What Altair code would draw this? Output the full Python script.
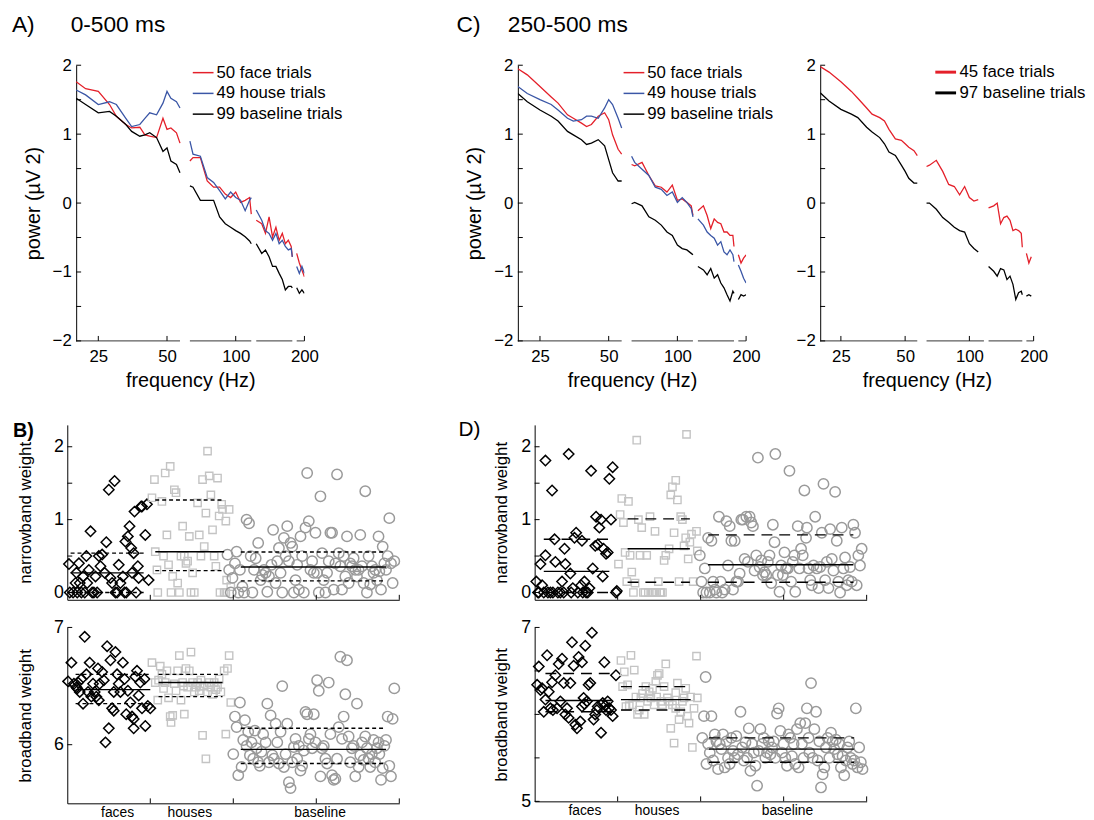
import altair as alt
import pandas as pd

FONT = "Liberation Sans"
RED = "#e4202a"
BLUE = "#3a56a6"
BLACK = "#000000"
HOUSE_GRAY = "#c4c4c4"
BASE_GRAY = "#9a9a9a"

# ---------------- spectra ----------------
FREQ = [20, 22, 25, 28, 30, 33, 35, 38, 40, 42, 45, 48, 50, 52, 55, 57,
        63, 65, 70, 75, 80, 85, 90, 95, 100, 105, 110, 115, 117,
        123, 130, 135, 140, 145, 150, 155, 160, 165, 170, 175, 177,
        185, 190, 195, 200]
SEGMENTS = [(20, 57), (63, 117), (123, 177), (185, 200)]
X_TICKS = [25, 50, 100, 200]
Y_LABELS = [-2, -1, 0, 1, 2]
Y_MINOR = [-2, -1.5, -1, -0.5, 0, 0.5, 1, 1.5, 2]

A_LABELS = ["50 face trials", "49 house trials", "99 baseline trials"]
A_FACE = [1.76, 1.66, 1.62, 1.43, 1.26, 1.14, 1.09, 1.10, 0.99, 0.97, 0.95, 1.23, 1.07, 1.09, 1.02, 0.87,
          0.61, 0.66, 0.66, 0.32, 0.23, 0.23, 0.13, 0.08, 0.16, 0.01, 0.04, 0.08, -0.16,
          -0.25, -0.30, -0.44, -0.20, -0.49, -0.35, -0.54, -0.44, -0.59, -0.54, -0.63, -0.78,
          -0.73, -0.87, -0.97, -1.07]
A_HOUSE = [1.64, 1.57, 1.43, 1.47, 1.43, 1.23, 1.11, 1.14, 1.23, 1.31, 1.28, 1.45, 1.62, 1.52, 1.47, 1.38,
           0.90, 0.71, 0.68, 0.37, 0.30, 0.18, 0.06, 0.16, 0.08, 0.04, -0.11, 0.04, 0.08,
           -0.10, -0.25, -0.40, -0.44, -0.54, -0.44, -0.59, -0.54, -0.63, -0.68, -0.66, -0.78,
           -0.92, -1.02, -0.92, -1.02]
A_BASE = [1.52, 1.43, 1.31, 1.33, 1.26, 1.14, 1.04, 0.97, 0.99, 1.02, 0.95, 0.75, 0.80, 0.61, 0.56, 0.44,
          0.25, 0.23, 0.04, 0.04, 0.04, -0.20, -0.30, -0.35, -0.40, -0.44, -0.49, -0.55, -0.59,
          -0.59, -0.73, -0.68, -0.78, -0.92, -0.92, -1.02, -1.11, -1.26, -1.21, -1.21, -1.23,
          -1.23, -1.31, -1.26, -1.31]

C_LABELS = ["50 face trials", "49 house trials", "99 baseline trials"]
C_FACE = [1.95, 1.86, 1.69, 1.54, 1.45, 1.28, 1.23, 1.16, 1.11, 1.14, 1.26, 1.31, 1.21, 0.99, 0.78, 0.71,
          0.56, 0.54, 0.59, 0.40, 0.25, 0.23, 0.16, 0.26, 0.04, 0.06, 0.01, -0.04, -0.18,
          -0.11, -0.04, -0.18, -0.37, -0.23, -0.28, -0.30, -0.42, -0.42, -0.47, -0.47, -0.63,
          -0.75, -0.87, -0.80, -0.75]
C_HOUSE = [1.69, 1.59, 1.50, 1.43, 1.35, 1.23, 1.19, 1.21, 1.26, 1.26, 1.23, 1.38, 1.50, 1.43, 1.23, 1.09,
           0.68, 0.59, 0.49, 0.40, 0.23, 0.20, 0.11, 0.16, 0.01, 0.08, 0.01, -0.08, -0.20,
           -0.23, -0.32, -0.42, -0.47, -0.51, -0.61, -0.56, -0.71, -0.75, -0.68, -0.75, -0.85,
           -0.90, -0.99, -1.09, -1.16]
C_BASE = [1.59, 1.47, 1.35, 1.26, 1.19, 1.04, 0.99, 0.92, 0.85, 0.87, 0.92, 0.83, 0.63, 0.44, 0.32, 0.32,
          -0.01, 0.01, -0.04, -0.20, -0.25, -0.32, -0.42, -0.47, -0.61, -0.66, -0.68, -0.73, -0.75,
          -0.92, -0.97, -1.04, -0.95, -1.09, -1.04, -1.16, -1.23, -1.33, -1.42, -1.28, -1.31,
          -1.40, -1.33, -1.35, -1.33]

R_LABELS = ["45 face trials", "97 baseline trials"]
R_FACE = [1.98, 1.90, 1.76, 1.62, 1.52, 1.38, 1.29, 1.24, 1.19, 1.07, 0.93, 0.91, 0.86, 0.81, 0.76, 0.69,
          0.53, 0.55, 0.62, 0.46, 0.27, 0.24, 0.12, 0.24, 0.08, 0.03, 0.05, None, None,
          -0.07, -0.04, 0.00, -0.30, -0.21, -0.19, -0.25, -0.40, -0.38, -0.40, -0.44, -0.64,
          -0.73, -0.87, -0.78, None]
R_BASE = [1.60, 1.48, 1.36, 1.29, 1.24, 1.10, 1.03, 0.95, 0.86, 0.74, 0.69, 0.55, 0.46, 0.36, 0.29, 0.29,
          0.00, 0.00, -0.09, -0.21, -0.28, -0.35, -0.40, -0.42, -0.59, -0.66, -0.71, None, None,
          -0.92, -0.99, -1.06, -0.95, -0.97, -1.11, -1.06, -1.18, -1.40, -1.30, -1.28, -1.33,
          -1.35, -1.33, -1.35, None]

# ---------------- trial weights ----------------
CATEGORIES = ["faces", "houses", "baseline"]
CAT_POS = [0.6, 1.47, 3.04]
GROUP_TICKS = [1, 2, 3, 4]

# B) narrowband
BN_FACE_X = [0.02, 0.03, 0.07, 0.10, 0.11, 0.12, 0.14, 0.15, 0.17, 0.19, 0.21, 0.23, 0.24, 0.26, 0.28, 0.30,
             0.32, 0.34, 0.36, 0.38, 0.40, 0.42, 0.45, 0.47, 0.50, 0.52, 0.54, 0.57, 0.58, 0.60, 0.62, 0.64,
             0.67, 0.69, 0.71, 0.70, 0.73, 0.75, 0.77, 0.78, 0.80, 0.81, 0.83, 0.85, 0.86, 0.89, 0.90, 0.94,
             0.96, 0.98]
BN_FACE_Y = [0.39, 0, 0, 0.13, 0.27, 0, 0.40, 0.13, 0, 0.22, 0, 0.50, 0.13, 0.31, 0.84, 0,
             0, 0.22, 0, 0.50, 0.36, 0.52, 0.27, 0.69, 1.41, 0.20, 0.13, 1.53, 0, 0, 0.38, 0.13,
             0.22, 0, 0, 0.70, 0.77, 0.91, 0.61, 0.27, 0.54, 1.11, 0, 0.36, 0.20, 1.18, 1.18, 0.79,
             1.21, 0.17]
BN_HOUSE_X = [1.02, 1.05, 1.06, 1.08, 1.09, 1.14, 1.16, 1.18, 1.20, 1.22, 1.24, 1.25, 1.27, 1.29, 1.31, 1.33,
              1.35, 1.37, 1.39, 1.41, 1.43, 1.45, 1.47, 1.49, 1.51, 1.53, 1.57, 1.59, 1.61, 1.63, 1.65, 1.67,
              1.69, 1.71, 1.73, 1.75, 1.77, 1.79, 1.81, 1.83, 1.84, 1.86, 1.87, 1.89, 1.91, 1.92, 1.95, 1.91,
              1.97]
BN_HOUSE_Y = [1.30, 1.55, 0.56, 0.31, 0, 1.25, 0.50, 1.64, 0.79, 0.38, 1.73, 0, 0.22, 1.41, 1.37, 0.13,
              0, 0.50, 0.91, 0.50, 0.40, 0.43, 0.77, 0, 0.27, 0, 1.23, 0.79, 0.50, 1.55, 0.63, 1.09,
              1.94, 1.60, 1.34, 0.86, 0.50, 0.36, 1.57, 1.05, 0, 1.21, 1.14, 0, 0.98, 0.17, 1.14, 0,
              0.08]
BN_BASE_X = [1.93, 1.95, 1.97, 1.99, 2.02, 2.04, 2.06, 2.08, 2.11, 2.13, 2.16, 2.19, 2.21, 2.23, 2.25, 2.27,
             2.30, 2.33, 2.35, 2.37, 2.39, 2.41, 2.43, 2.46, 2.48, 2.51, 2.53, 2.55, 2.57, 2.59, 2.61, 2.63,
             2.65, 2.67, 2.69, 2.71, 2.73, 2.75, 2.77, 2.79, 2.81, 2.83, 2.85, 2.87, 2.89, 2.91, 2.93, 2.95,
             2.97, 2.99, 3.01, 3.03, 3.05, 3.07, 3.09, 3.11, 3.13, 3.15, 3.17, 3.19, 3.21, 3.23, 3.25, 3.27,
             3.29, 3.31, 3.33, 3.35, 3.37, 3.39, 3.41, 3.43, 3.45, 3.47, 3.49, 3.51, 3.53, 3.55, 3.57, 3.59,
             3.61, 3.63, 3.65, 3.67, 3.69, 3.71, 3.73, 3.75, 3.76, 3.78, 3.80, 3.82, 3.84, 3.86, 3.88, 3.90,
             3.92, 3.94]
BN_BASE_Y = [0.52, 0.31, 0, 0.20, 0.40, 0.56, 0, 0.31, 0.08, 0, 1.00, 0.95, 0.50, 0, 0.31, 0.47,
             0.68, 0.17, 0.24, 0.31, 0.27, 0.01, 0.22, 0.38, 0.86, 0.13, 0.43, 0.61, 0.27, 0, 0.75, 0.50,
             0.91, 0.43, 0.68, 0.63, 0, 0.17, 0.38, 0.04, 0.77, 0.50, 0, 0.89, 1.64, 0.98, 0.31, 0.43,
             0.27, 0.82, 0.27, 0, 1.32, 0.54, 0.17, 0, 0.27, 0.43, 0.82, 0.82, 0.04, 0.40, 1.62, 0.54,
             0.36, 0.04, 0.50, 0.22, 0.77, 0.13, 0.40, 0.36, 0.47, 0.31, 0.22, 0.31, 0.79, 0.36, 0.13, 1.39,
             0, 0.50, 0.11, 0.36, 0.27, 0.31, 0.17, 0.77, 0.29, 0.04, 0.63, 0.40, 0.31, 0.50, 1.02, 0.40,
             0.13, 0.43]
BN_STATS = {"x0": [0.04, 1.06, 2.09], "x1": [0.92, 1.89, 3.84],
            "q1": [0.0, 0.30, 0.16], "med": [0.27, 0.56, 0.35], "q3": [0.54, 1.27, 0.555]}

# B) broadband
BB_FACE_X = [0.01, 0.05, 0.08, 0.11, 0.12, 0.13, 0.15, 0.17, 0.19, 0.21, 0.23, 0.25, 0.27, 0.29, 0.31, 0.33,
             0.35, 0.37, 0.38, 0.39, 0.42, 0.44, 0.46, 0.48, 0.50, 0.52, 0.54, 0.56, 0.56, 0.58, 0.60, 0.62,
             0.64, 0.67, 0.69, 0.71, 0.73, 0.76, 0.78, 0.80, 0.80, 0.82, 0.84, 0.86, 0.88, 0.90, 0.93, 0.94,
             0.97, 1.00]
BB_FACE_Y = [6.54, 6.70, 6.52, 6.49, 6.48, 6.53, 6.45, 6.56, 6.35, 6.92, 6.60, 6.45, 6.70, 6.41, 6.52, 6.45,
             6.41, 6.65, 6.38, 6.52, 6.62, 6.55, 6.02, 6.84, 6.14, 6.72, 6.31, 6.45, 6.29, 6.79, 6.60, 6.52,
             6.45, 6.70, 6.56, 6.26, 6.46, 6.36, 6.24, 6.14, 6.22, 6.58, 6.63, 6.42, 6.53, 6.31, 6.56, 6.16,
             6.33, 6.31]
BB_HOUSE_X = [1.02, 1.06, 1.09, 1.10, 1.12, 1.14, 1.16, 1.18, 1.20, 1.22, 1.24, 1.25, 1.27, 1.29, 1.31, 1.33,
              1.35, 1.37, 1.39, 1.40, 1.41, 1.43, 1.45, 1.47, 1.49, 1.51, 1.53, 1.55, 1.57, 1.59, 1.60, 1.61,
              1.63, 1.65, 1.67, 1.69, 1.71, 1.73, 1.75, 1.77, 1.79, 1.81, 1.83, 1.85, 1.89, 1.91, 1.93, 1.95,
              1.97]
BB_HOUSE_Y = [6.70, 6.53, 6.38, 6.55, 6.67, 6.60, 6.48, 6.53, 6.63, 6.40, 6.24, 6.19, 6.25, 6.52, 6.46, 6.63,
              6.76, 6.38, 6.53, 6.50, 6.26, 6.65, 6.49, 6.63, 6.79, 6.53, 6.45, 6.49, 6.53, 6.46, 6.50, 6.55,
              6.08, 6.50, 5.88, 6.45, 6.53, 6.49, 6.43, 6.53, 6.47, 6.49, 6.56, 6.45, 6.63, 6.09, 6.65, 6.76,
              6.36]
BB_BASE_X = [2.00, 2.02, 2.04, 2.06, 2.08, 2.10, 2.12, 2.14, 2.16, 2.18, 2.20, 2.22, 2.24, 2.26, 2.28, 2.30,
             2.32, 2.34, 2.36, 2.39, 2.41, 2.43, 2.45, 2.47, 2.49, 2.51, 2.53, 2.55, 2.57, 2.59, 2.61, 2.63,
             2.65, 2.67, 2.69, 2.71, 2.73, 2.75, 2.77, 2.79, 2.81, 2.83, 2.85, 2.87, 2.89, 2.91, 2.93, 2.95,
             2.97, 2.99, 3.01, 3.03, 3.05, 3.07, 3.09, 3.11, 3.13, 3.15, 3.17, 3.19, 3.21, 3.23, 3.25, 3.27,
             3.29, 3.31, 3.33, 3.35, 3.37, 3.39, 3.41, 3.43, 3.45, 3.47, 3.49, 3.51, 3.53, 3.55, 3.57, 3.59,
             3.61, 3.63, 3.65, 3.67, 3.69, 3.71, 3.73, 3.75, 3.76, 3.78, 3.80, 3.82, 3.84, 3.86, 3.88, 3.90,
             3.92, 3.94]
BB_BASE_Y = [5.92, 6.24, 6.15, 5.74, 6.36, 5.81, 6.04, 6.21, 5.99, 6.11, 5.91, 6.02, 5.88, 6.12, 5.97, 5.85,
             5.82, 5.94, 6.09, 6.02, 6.35, 5.85, 6.25, 5.91, 5.88, 6.18, 6.02, 5.84, 6.11, 6.50, 5.81, 5.92,
             6.18, 5.68, 5.63, 5.85, 5.98, 6.05, 5.88, 5.99, 5.78, 5.82, 5.95, 6.28, 6.26, 6.05, 6.09, 5.97,
             6.26, 6.02, 6.55, 6.46, 5.73, 5.97, 5.99, 5.88, 5.84, 6.53, 6.09, 5.74, 5.70, 5.71, 5.88, 6.15,
             6.75, 6.05, 6.24, 6.43, 6.72, 6.07, 5.85, 5.97, 5.99, 5.73, 6.35, 5.81, 5.91, 6.02, 5.87, 6.07,
             5.97, 5.88, 5.81, 5.92, 6.04, 5.85, 5.97, 6.02, 5.92, 5.70, 5.80, 5.99, 6.04, 6.24, 5.82, 5.73,
             6.22, 6.48]
BB_STATS = {"x0": [0.10, 1.10, 2.09], "x1": [1.00, 1.87, 3.84],
            "q1": [6.35, 6.41, 5.84], "med": [6.47, 6.53, 5.96], "q3": [6.60, 6.60, 6.14]}

# D) narrowband
DN_FACE_X = [0.02, 0.04, 0.05, 0.07, 0.09, 0.11, 0.13, 0.13, 0.16, 0.19, 0.21, 0.22, 0.24, 0.25, 0.28, 0.31,
             0.33, 0.35, 0.36, 0.37, 0.41, 0.43, 0.44, 0.46, 0.48, 0.50, 0.52, 0.56, 0.57, 0.58, 0.60, 0.62,
             0.64, 0.66, 0.68, 0.70, 0.73, 0.74, 0.76, 0.78, 0.80, 0.82, 0.83, 0.86, 0.88, 0.90, 0.92, 0.94,
             0.98, 0.99]
DN_FACE_Y = [0.15, 0, 0, 0.39, 0.10, 0, 1.81, 0.51, 0, 0, 1.40, 0, 0.73, 0.42, 0, 0,
             0.15, 0, 0.60, 0.39, 1.90, 0.26, 0, 0.06, 0.75, 0.82, 0, 0.10, 0.71, 0, 0.15, 0,
             0, 0.06, 1.67, 0.33, 0.64, 1.04, 0.66, 0.89, 1.00, 0.22, 0.60, 0.53, 0.55, 1.56, 1.00, 1.72,
             0, 0.02]
DN_HOUSE_X = [1.01, 1.03, 1.05, 1.07, 1.09, 1.11, 1.13, 1.15, 1.17, 1.19, 1.21, 1.23, 1.25, 1.27, 1.29, 1.31,
              1.33, 1.35, 1.37, 1.39, 1.41, 1.43, 1.45, 1.45, 1.47, 1.49, 1.51, 1.52, 1.54, 1.56, 1.58, 1.62,
              1.64, 1.66, 1.68, 1.70, 1.72, 1.74, 1.76, 1.78, 1.80, 1.82, 1.83, 1.85, 1.87, 1.89, 1.91, 1.95,
              1.96]
DN_HOUSE_Y = [0.39, 1.07, 1.29, 0.96, 0.55, 0.15, 1.25, 0.51, 0.28, 0, 0.13, 2.09, 1.00, 0.51, 0.89, 0,
              0, 0.51, 0, 1.04, 0, 0, 0.84, 0, 0, 0.15, 0, 0, 0, 0.44, 0.51, 0.60,
              1.34, 1.45, 0.82, 1.54, 1.27, 0.15, 1.04, 1.00, 0.64, 0.75, 2.17, 0.46, 0.69, 0.80, 0.15, 0.84,
              0.57]
DN_BASE_X = [1.99, 2.01, 2.03, 2.05, 2.07, 2.09, 2.11, 2.13, 2.15, 2.17, 2.19, 2.22, 2.24, 2.26, 2.29, 2.31,
             2.33, 2.35, 2.37, 2.39, 2.41, 2.43, 2.45, 2.47, 2.49, 2.51, 2.53, 2.55, 2.57, 2.59, 2.61, 2.63,
             2.65, 2.67, 2.69, 2.71, 2.73, 2.75, 2.77, 2.79, 2.81, 2.83, 2.85, 2.87, 2.89, 2.90, 2.93, 2.95,
             2.97, 2.99, 3.01, 3.03, 3.05, 3.07, 3.09, 3.11, 3.13, 3.14, 3.17, 3.19, 3.21, 3.23, 3.25, 3.27,
             3.28, 3.30, 3.32, 3.34, 3.36, 3.38, 3.40, 3.42, 3.44, 3.46, 3.48, 3.50, 3.52, 3.54, 3.56, 3.58,
             3.60, 3.62, 3.64, 3.66, 3.68, 3.70, 3.72, 3.74, 3.76, 3.78, 3.80, 3.82, 3.84, 3.86, 3.88, 3.90,
             3.92, 3.94]
DN_BASE_Y = [0.51, 0.15, 0, 0.33, 0, 0.75, 0, 0.71, 0.15, 0.04, 0, 1.04, 0.15, 0, 0.04, 0.98,
             0.37, 0.91, 0.71, 0.04, 0.71, 0.15, 0.15, 0.26, 1.00, 1.00, 0.46, 1.04, 0.42, 1.04, 0.96, 0.91,
             0.30, 0.51, 1.85, 0.35, 0.44, 0.24, 0.28, 0.24, 0.42, 0.51, 0.13, 0.93, 0.69, 1.90, 0.24, 0.01,
             0.37, 0.24, 0.55, 0.33, 0.33, 1.67, 0.15, 0.42, 0.51, 0.01, 0.91, 0.33, 0.60, 0.51, 1.40, 0.75,
             0.89, 0.33, 0.17, 0.10, 0.37, 1.04, 0.33, 0.06, 0.35, 0.82, 1.49, 0.17, 0.42, 0.06, 0.87, 0.46,
             0.30, 1.38, 0.71, 0.15, 0, 0.89, 0.33, 0.48, 0.10, 0.17, 0.35, 0.15, 0.93, 0.82, 0.10, 0.51,
             0.37, 0.60]
DN_STATS = {"x0": [0.11, 1.12, 2.09], "x1": [0.90, 1.87, 3.84],
            "q1": [0.0, 0.14, 0.14], "med": [0.29, 0.60, 0.38], "q3": [0.73, 1.01, 0.79]}

# D) broadband
DB_FACE_X = [0.03, 0.05, 0.07, 0.09, 0.11, 0.13, 0.15, 0.17, 0.19, 0.21, 0.22, 0.25, 0.27, 0.29, 0.31, 0.33,
             0.35, 0.37, 0.39, 0.41, 0.43, 0.45, 0.47, 0.49, 0.51, 0.53, 0.55, 0.57, 0.57, 0.59, 0.60, 0.61,
             0.63, 0.65, 0.67, 0.69, 0.71, 0.73, 0.75, 0.76, 0.80, 0.82, 0.84, 0.85, 0.86, 0.88, 0.90, 0.92,
             0.94, 0.98]
DB_FACE_Y = [6.34, 6.55, 6.28, 6.30, 6.03, 6.17, 6.68, 6.26, 6.07, 6.37, 6.05, 6.45, 6.07, 6.58, 6.15, 6.64,
             6.36, 6.00, 6.07, 5.96, 6.36, 6.83, 6.56, 5.88, 5.84, 6.66, 5.92, 6.09, 6.60, 6.19, 6.12, 6.79,
             6.15, 6.34, 6.36, 6.94, 5.94, 6.00, 6.05, 6.09, 5.79, 6.13, 6.60, 6.10, 6.05, 6.15, 6.07, 6.05,
             5.98, 6.45]
DB_HOUSE_X = [1.04, 1.06, 1.08, 1.10, 1.12, 1.14, 1.16, 1.18, 1.20, 1.22, 1.24, 1.26, 1.28, 1.30, 1.32, 1.34,
              1.36, 1.38, 1.40, 1.42, 1.44, 1.46, 1.47, 1.48, 1.50, 1.52, 1.54, 1.56, 1.58, 1.60, 1.62, 1.64,
              1.66, 1.68, 1.70, 1.70, 1.72, 1.74, 1.76, 1.78, 1.80, 1.82, 1.84, 1.86, 1.88, 1.90, 1.92, 1.95,
              1.96]
DB_HOUSE_Y = [6.62, 6.32, 6.49, 6.09, 6.34, 6.10, 6.68, 6.11, 6.51, 6.20, 6.00, 6.05, 6.19, 6.24, 6.00, 6.32,
              6.15, 6.26, 6.19, 6.30, 6.11, 6.38, 6.20, 6.45, 6.47, 6.15, 6.11, 6.32, 6.58, 6.19, 6.15, 5.84,
              6.11, 5.67, 6.07, 6.25, 6.36, 5.94, 6.03, 6.15, 6.19, 6.30, 5.98, 5.90, 6.20, 5.62, 6.07, 6.67,
              6.19]
DB_BASE_X = [2.02, 2.04, 2.06, 2.07, 2.09, 2.11, 2.13, 2.15, 2.17, 2.19, 2.21, 2.23, 2.25, 2.27, 2.29, 2.31,
             2.33, 2.35, 2.37, 2.39, 2.41, 2.43, 2.45, 2.48, 2.50, 2.52, 2.54, 2.56, 2.58, 2.60, 2.62, 2.64,
             2.66, 2.68, 2.70, 2.72, 2.74, 2.76, 2.78, 2.80, 2.82, 2.84, 2.86, 2.88, 2.90, 2.92, 2.94, 2.96,
             2.98, 3.00, 3.02, 3.04, 3.06, 3.08, 3.10, 3.12, 3.14, 3.16, 3.18, 3.20, 3.22, 3.24, 3.26, 3.28,
             3.30, 3.31, 3.33, 3.35, 3.37, 3.39, 3.41, 3.43, 3.45, 3.47, 3.49, 3.51, 3.53, 3.55, 3.57, 3.59,
             3.61, 3.63, 3.65, 3.67, 3.69, 3.71, 3.73, 3.75, 3.77, 3.79, 3.81, 3.83, 3.85, 3.87, 3.89, 3.91,
             3.93, 3.95]
DB_BASE_Y = [5.73, 5.98, 6.43, 5.43, 5.66, 5.56, 5.98, 5.47, 5.77, 5.69, 5.37, 5.66, 5.60, 5.77, 5.39, 5.69,
             5.50, 5.43, 5.73, 5.58, 5.50, 5.75, 5.54, 6.03, 5.62, 5.47, 5.68, 5.50, 5.84, 5.35, 5.66, 5.56,
             5.41, 5.18, 5.58, 5.83, 5.66, 5.73, 5.50, 5.56, 5.69, 5.54, 5.62, 5.69, 5.50, 6.01, 6.07, 5.81,
             5.56, 5.66, 5.50, 5.41, 5.77, 5.73, 5.52, 5.66, 5.43, 5.83, 5.39, 5.90, 5.66, 5.50, 5.90, 6.07,
             5.73, 5.56, 6.36, 5.50, 5.83, 6.03, 5.47, 5.69, 5.16, 5.31, 5.39, 5.62, 5.73, 5.50, 5.79, 5.69,
             5.60, 5.71, 5.54, 5.66, 5.39, 5.52, 5.30, 5.47, 5.62, 5.69, 5.50, 5.43, 5.47, 6.07, 5.39, 5.62,
             5.45, 5.37]
DB_STATS = {"x0": [0.13, 1.04, 2.10], "x1": [0.92, 1.88, 3.85],
            "q1": [6.03, 6.05, 5.45], "med": [6.16, 6.17, 5.60], "q3": [6.47, 6.32, 5.73]}

MINUS_EXPR = "datum.value < 0 ? '\u2212' + format(-datum.value, 'd') : format(datum.value, 'd')"


def seg_of(f):
    for i, (a, b) in enumerate(SEGMENTS):
        if a <= f <= b:
            return i
    return -1


def spectrum_panel(labels, series, colors, width, height, title=None, y_title=True,
                   legend_x=0, legend_y=0, swatch_width=1.5, inset=0):
    rows = []
    for lab, vals in zip(labels, series):
        for f, v in zip(FREQ, vals):
            if v is None:
                continue
            rows.append({"freq": f, "power": v, "series": lab, "seg": seg_of(f)})
    df = pd.DataFrame(rows)
    full_w = width + inset
    xscale = alt.Scale(type="log", domain=[20, 200], range=[inset, full_w], nice=False)
    yscale = alt.Scale(domain=[-2, 2], nice=False)
    xaxis = alt.Axis(values=X_TICKS, format="d", domain=False, ticks=False, grid=False,
                     labelFontSize=17, labelPadding=8, labelFlush=False,
                     title="frequency (Hz)", titleFontSize=20, titlePadding=6)
    yaxis = alt.Axis(values=Y_LABELS, labelExpr=MINUS_EXPR, ticks=False, grid=False,
                     domain=True, domainColor="black", domainWidth=1, offset=-inset,
                     labelFontSize=17, labelPadding=5,
                     title=("power (\u00b5V 2)" if y_title else None),
                     titleFontSize=20, titlePadding=9)
    lines = alt.Chart(df).mark_line(strokeWidth=1.3, clip=True).encode(
        x=alt.X("freq:Q", scale=xscale, axis=xaxis),
        y=alt.Y("power:Q", scale=yscale, axis=yaxis),
        color=alt.Color("series:N", scale=alt.Scale(domain=labels, range=colors),
                        legend=alt.Legend(orient="none", legendX=legend_x, legendY=legend_y,
                                          title=None, symbolType="stroke", symbolSize=441,
                                          symbolStrokeWidth=swatch_width, labelFontSize=17,
                                          labelOffset=2, rowPadding=1, padding=0,
                                          labelColor="black")),
        detail="seg:N",
    )
    seg_df = pd.DataFrame({"freq": [s[0] for s in SEGMENTS], "freq_end": [s[1] for s in SEGMENTS],
                           "power": [-2] * len(SEGMENTS)})
    xaxis_line = alt.Chart(seg_df).mark_rule(color="#333333", strokeWidth=1).encode(
        x=alt.X("freq:Q", scale=xscale, axis=xaxis), x2="freq_end:Q",
        y=alt.Y("power:Q", scale=yscale, axis=yaxis))
    ytick = alt.Chart(pd.DataFrame({"power": Y_MINOR})).mark_rule(color="black").encode(
        y=alt.Y("power:Q", scale=yscale, axis=yaxis), x=alt.value(inset), x2=alt.value(inset + 5))
    xtick = alt.Chart(pd.DataFrame({"freq": X_TICKS})).mark_rule(color="black").encode(
        x=alt.X("freq:Q", scale=xscale, axis=xaxis), y=alt.value(height), y2=alt.value(height - 5))
    props = dict(width=full_w, height=height)
    if title is not None:
        props["title"] = title
    return alt.layer(lines, xaxis_line, ytick, xtick).properties(**props)


def scatter_panel(groups, stats, ydomain, ylabels, yminor, ytitle, width, height, dash,
                  cat_labels, title, title_pad):
    xscale = alt.Scale(domain=[0, 4], nice=False)
    yscale = alt.Scale(domain=ydomain, nice=False)
    if cat_labels:
        expr = ("datum.value < 1 ? '%s' : datum.value < 2 ? '%s' : '%s'" % tuple(CATEGORIES))
        xaxis = alt.Axis(values=CAT_POS, labelExpr=expr, ticks=False, grid=False, domainColor="black",
                         labelFontSize=14, labelPadding=2, title=None)
    else:
        xaxis = alt.Axis(labels=False, ticks=False, grid=False, domainColor="black", title=None)
    yaxis = alt.Axis(values=ylabels, format="d", ticks=False, grid=False, domainColor="black",
                     labelFontSize=18, labelPadding=4, title=ytitle, titleFontSize=17,
                     titlePadding=title_pad)
    X = lambda f: alt.X(f, scale=xscale, axis=xaxis)
    Y = lambda f: alt.Y(f, scale=yscale, axis=yaxis)
    layers = []
    for xs, ys, shape, color, size, sw in groups:
        df = pd.DataFrame({"x": xs, "y": ys})
        layers.append(alt.Chart(df).mark_point(shape=shape, filled=False, color=color, size=size,
                                               strokeWidth=sw, opacity=1).encode(x=X("x:Q"), y=Y("y:Q")))
    for key, dsh in (("med", None), ("q1", dash), ("q3", dash)):
        sdf = pd.DataFrame({"x": stats["x0"], "x_end": stats["x1"], "y": stats[key]})
        mk = dict(color="black", strokeWidth=1.4)
        if dsh is not None:
            mk["strokeDash"] = dsh
        layers.append(alt.Chart(sdf).mark_rule(**mk).encode(x=X("x:Q"), x2="x_end:Q", y=Y("y:Q")))
    layers.append(alt.Chart(pd.DataFrame({"y": yminor})).mark_rule(color="black").encode(
        y=Y("y:Q"), x=alt.value(0), x2=alt.value(5)))
    layers.append(alt.Chart(pd.DataFrame({"x": GROUP_TICKS})).mark_rule(color="black").encode(
        x=X("x:Q"), y=alt.value(height), y2=alt.value(height - 5)))
    props = dict(width=width, height=height)
    if title is not None:
        props["title"] = title
    return alt.layer(*layers).properties(**props)


def panel_title(text, dx, offset, size=23, weight="normal"):
    return alt.TitleParams(text=text, anchor="start", frame="group", dx=dx, offset=offset,
                           baseline="alphabetic", fontSize=size, fontWeight=weight, font=FONT,
                           color="black")


chartA = spectrum_panel(A_LABELS, [A_FACE, A_HOUSE, A_BASE], [RED, BLUE, BLACK], 231, 279,
                        title=panel_title("A)\u2003\u2002\u200a0-500 ms", -56, 2),
                        legend_x=126, legend_y=-4, inset=9)
chartCL = spectrum_panel(C_LABELS, [C_FACE, C_HOUSE, C_BASE], [RED, BLUE, BLACK], 231, 279,
                         title=panel_title("C)\u2003\u2009250-500 ms", -62, 2),
                         legend_x=106, legend_y=-4)
chartCR = spectrum_panel(R_LABELS, [R_FACE, R_BASE], [RED, BLACK], 216, 279, y_title=False,
                         legend_x=115, legend_y=-5, swatch_width=3)


def marker_groups(fx, fy, hx, hy, bx, by):
    return [
        (fx, fy, "diamond", BLACK, 110, 1.5),
        (hx, hy, "square", HOUSE_GRAY, 55, 1.4),
        (bx, by, "circle", BASE_GRAY, 110, 1.5),
    ]


BN = scatter_panel(marker_groups(BN_FACE_X, BN_FACE_Y, BN_HOUSE_X, BN_HOUSE_Y, BN_BASE_X, BN_BASE_Y),
                   BN_STATS, [-0.1, 2.3], [0, 1, 2], [0, 0.5, 1, 1.5, 2], "narrowband weight",
                   336, 177, [4, 3], False, panel_title("B)", -55, -32, 20, "bold"), 19)
BB = scatter_panel(marker_groups(BB_FACE_X, BB_FACE_Y, BB_HOUSE_X, BB_HOUSE_Y, BB_BASE_X, BB_BASE_Y),
                   BB_STATS, [5.5, 7.0], [6, 7], [6, 6.5, 7], "broadband weight",
                   336, 178, [4, 3], True, None, 19)
DN = scatter_panel(marker_groups(DN_FACE_X, DN_FACE_Y, DN_HOUSE_X, DN_HOUSE_Y, DN_BASE_X, DN_BASE_Y),
                   DN_STATS, [-0.1, 2.3], [0, 1, 2], [0, 0.5, 1, 1.5, 2], "narrowband weight",
                   336, 177, [11, 7], False, panel_title("D)", -77, -32, 21), 10)
DB = scatter_panel(marker_groups(DB_FACE_X, DB_FACE_Y, DB_HOUSE_X, DB_HOUSE_Y, DB_BASE_X, DB_BASE_Y),
                   DB_STATS, [5.0, 7.0], [5, 6, 7], [5, 5.5, 6, 6.5, 7], "broadband weight",
                   336, 176, [11, 7], True, None, 10)

c_pair = alt.hconcat(chartCL, chartCR, spacing=22).resolve_scale(color="independent").resolve_legend(color="independent")
top = alt.hconcat(chartA, c_pair, spacing=115).resolve_scale(color="independent").resolve_legend(color="independent")
colB = alt.vconcat(BN, BB, spacing=17)
colD = alt.vconcat(DN, DB, spacing=17)
bottom = alt.hconcat(colB, colD, spacing=56)

chart = alt.vconcat(top, bottom, spacing=29).resolve_scale(color="independent").resolve_legend(
    color="independent").properties(
    padding={"left": 4, "top": 1, "right": 0, "bottom": 0}, background="white"
).configure(font=FONT).configure_view(stroke=None).configure_axis(
    labelFont=FONT, titleFont=FONT, labelColor="black", titleColor="black", titleFontWeight="normal"
).configure_legend(labelFont=FONT).configure_title(font=FONT)

chart.save("out.html", embed_options={"renderer": "svg", "actions": False})
